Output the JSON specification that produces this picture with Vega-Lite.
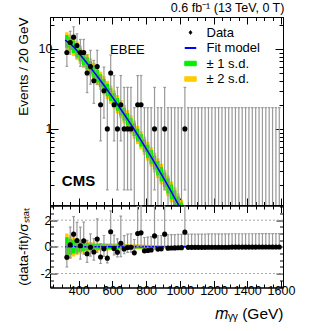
{
"$schema": "https://vega.github.io/schema/vega-lite/v6.json",
"padding": {"left": 15, "top": 1, "right": 5, "bottom": 5},
"title": {"text": "0.6 fb⁻¹ (13 TeV, 0 T)", "anchor": "end", "fontSize": 12.5, "fontWeight": "normal", "font": "Liberation Sans", "offset": 2, "dx": -11, "color": "black"},
"spacing": 0.5,
"bounds": "flush",
"resolve": {"scale": {"x": "independent", "y": "independent", "color": "independent"}},
"config": {
  "view": {"stroke": "black", "strokeWidth": 1},
  "font": "Liberation Sans",
  "axis": {"domainColor": "black", "tickColor": "black", "labelColor": "black", "titleColor": "black", "labelFont": "Liberation Sans", "titleFont": "Liberation Sans", "grid": false, "titleFontWeight": "normal", "labelFontSize": 12.5, "titleFontSize": 13.5, "labelOverlap": false}
},
"datasets": {
"bins": [
{"m":330,"a":320,"b":340,"n":9,"elo":6.057,"ehi":13.11,"p":-0.78,"plo":-1.5,"phi":0.22,"g1":0.72,"g2":1.0,"ng1":-0.72,"ng2":-1.0},
{"m":350,"a":340,"b":360,"n":12,"elo":8.585,"ehi":16.56,"p":0.15,"plo":-0.85,"phi":1.48,"g1":0.6,"g2":0.85,"ng1":-0.6,"ng2":-0.85},
{"m":370,"a":360,"b":380,"n":14,"elo":10.3,"ehi":18.83,"p":0.95,"plo":-0.05,"phi":2.26,"g1":0.5,"g2":0.72,"ng1":-0.5,"ng2":-0.72},
{"m":390,"a":380,"b":400,"n":11,"elo":7.734,"ehi":15.42,"p":0.48,"plo":-0.52,"phi":1.83,"g1":0.42,"g2":0.6,"ng1":-0.42,"ng2":-0.6},
{"m":410,"a":400,"b":420,"n":9,"elo":6.057,"ehi":13.11,"p":0.08,"plo":-0.92,"phi":1.48,"g1":0.36,"g2":0.52,"ng1":-0.36,"ng2":-0.52},
{"m":430,"a":420,"b":440,"n":9,"elo":6.057,"ehi":13.11,"p":0.45,"plo":-0.55,"phi":1.85,"g1":0.32,"g2":0.46,"ng1":-0.32,"ng2":-0.46},
{"m":450,"a":440,"b":460,"n":5,"elo":2.84,"ehi":8.382,"p":-0.52,"plo":-1.16,"phi":0.48,"g1":0.28,"g2":0.41,"ng1":-0.28,"ng2":-0.41},
{"m":470,"a":460,"b":480,"n":6,"elo":3.62,"ehi":9.584,"p":-0.03,"plo":-0.69,"phi":0.97,"g1":0.25,"g2":0.37,"ng1":-0.25,"ng2":-0.37},
{"m":490,"a":480,"b":500,"n":4,"elo":2.086,"ehi":7.163,"p":-0.39,"plo":-1.0,"phi":0.61,"g1":0.23,"g2":0.34,"ng1":-0.23,"ng2":-0.34},
{"m":510,"a":500,"b":520,"n":6,"elo":3.62,"ehi":9.584,"p":0.58,"plo":-0.42,"phi":2.09,"g1":0.21,"g2":0.31,"ng1":-0.21,"ng2":-0.31},
{"m":530,"a":520,"b":540,"n":2,"elo":0.708,"ehi":4.638,"p":-0.76,"plo":-1.25,"phi":0.24,"g1":0.2,"g2":0.29,"ng1":-0.2,"ng2":-0.29},
{"m":550,"a":540,"b":560,"n":3,"elo":1.367,"ehi":5.918,"p":-0.15,"plo":-0.71,"phi":0.85,"g1":0.19,"g2":0.28,"ng1":-0.19,"ng2":-0.28},
{"m":570,"a":560,"b":580,"n":1,"elo":0.173,"ehi":3.3,"p":-0.85,"plo":-1.21,"phi":0.15,"g1":0.18,"g2":0.27,"ng1":-0.18,"ng2":-0.27},
{"m":590,"a":580,"b":600,"n":5,"elo":2.84,"ehi":8.382,"p":1.13,"plo":0.13,"phi":2.7,"g1":0.18,"g2":0.26,"ng1":-0.18,"ng2":-0.26},
{"m":610,"a":600,"b":620,"n":2,"elo":0.708,"ehi":4.638,"p":-0.12,"plo":-0.61,"phi":0.88,"g1":0.17,"g2":0.25,"ng1":-0.17,"ng2":-0.25},
{"m":630,"a":620,"b":640,"n":1,"elo":0.173,"ehi":3.3,"p":-0.4,"plo":-0.76,"phi":0.6,"g1":0.17,"g2":0.25,"ng1":-0.17,"ng2":-0.25},
{"m":650,"a":640,"b":660,"n":2,"elo":0.708,"ehi":4.638,"p":0.27,"plo":-0.73,"phi":2.31,"g1":0.16,"g2":0.24,"ng1":-0.16,"ng2":-0.24},
{"m":670,"a":660,"b":680,"n":1,"elo":0.173,"ehi":3.3,"p":-0.16,"plo":-0.52,"phi":0.84,"g1":0.16,"g2":0.23,"ng1":-0.16,"ng2":-0.23},
{"m":690,"a":680,"b":700,"n":1,"elo":0.173,"ehi":3.3,"p":-0.05,"plo":-0.41,"phi":0.95,"g1":0.15,"g2":0.22,"ng1":-0.15,"ng2":-0.22},
{"m":710,"a":700,"b":720,"n":1,"elo":0.173,"ehi":3.3,"p":-0.03,"plo":-0.39,"phi":0.97,"g1":0.14,"g2":0.21,"ng1":-0.14,"ng2":-0.21},
{"m":730,"a":720,"b":740,"n":0,"elo":0.05,"ehi":1.841,"p":-0.45,"plo":-0.45,"phi":0.55,"g1":0.14,"g2":0.2,"ng1":-0.14,"ng2":-0.2},
{"m":750,"a":740,"b":760,"n":2,"elo":0.708,"ehi":4.638,"p":1.0,"plo":0.0,"phi":3.04,"g1":0.13,"g2":0.19,"ng1":-0.13,"ng2":-0.19},
{"m":770,"a":760,"b":780,"n":2,"elo":0.708,"ehi":4.638,"p":1.05,"plo":0.05,"phi":3.09,"g1":0.12,"g2":0.18,"ng1":-0.12,"ng2":-0.18},
{"m":790,"a":780,"b":800,"n":0,"elo":0.05,"ehi":1.841,"p":-0.3,"plo":-0.3,"phi":0.7,"g1":0.11,"g2":0.17,"ng1":-0.11,"ng2":-0.17},
{"m":810,"a":800,"b":820,"n":0,"elo":0.05,"ehi":1.841,"p":-0.27,"plo":-0.27,"phi":0.73,"g1":0.1,"g2":0.16,"ng1":-0.1,"ng2":-0.16},
{"m":830,"a":820,"b":840,"n":0,"elo":0.05,"ehi":1.841,"p":-0.24,"plo":-0.24,"phi":0.76,"g1":0.1,"g2":0.15,"ng1":-0.1,"ng2":-0.15},
{"m":850,"a":840,"b":860,"n":1,"elo":0.173,"ehi":3.3,"p":0.82,"plo":-0.18,"phi":3.6,"g1":0.09,"g2":0.14,"ng1":-0.09,"ng2":-0.14},
{"m":870,"a":860,"b":880,"n":0,"elo":0.05,"ehi":1.841,"p":-0.17,"plo":-0.17,"phi":0.83,"g1":0.08,"g2":0.13,"ng1":-0.08,"ng2":-0.13},
{"m":890,"a":880,"b":900,"n":0,"elo":0.05,"ehi":1.841,"p":-0.15,"plo":-0.15,"phi":0.85,"g1":0.08,"g2":0.12,"ng1":-0.08,"ng2":-0.12},
{"m":910,"a":900,"b":920,"n":1,"elo":0.173,"ehi":3.3,"p":0.95,"plo":-0.05,"phi":3.73,"g1":0.07,"g2":0.11,"ng1":-0.07,"ng2":-0.11},
{"m":930,"a":920,"b":940,"n":0,"elo":0.05,"ehi":1.841,"p":-0.1,"plo":-0.1,"phi":0.9,"g1":0.06,"g2":0.1,"ng1":-0.06,"ng2":-0.1},
{"m":950,"a":940,"b":960,"n":0,"elo":0.05,"ehi":1.841,"p":-0.09,"plo":-0.09,"phi":0.91,"g1":0.06,"g2":0.09,"ng1":-0.06,"ng2":-0.09},
{"m":970,"a":960,"b":980,"n":0,"elo":0.05,"ehi":1.841,"p":-0.08,"plo":-0.08,"phi":0.92,"g1":0.05,"g2":0.08,"ng1":-0.05,"ng2":-0.08},
{"m":990,"a":980,"b":1000,"n":0,"elo":0.05,"ehi":1.841,"p":-0.07,"plo":-0.07,"phi":0.93,"g1":0.05,"g2":0.07,"ng1":-0.05,"ng2":-0.07},
{"m":1010,"a":1000,"b":1020,"n":0,"elo":0.05,"ehi":1.841,"p":-0.06,"plo":-0.06,"phi":0.94,"g1":0.04,"g2":0.06,"ng1":-0.04,"ng2":-0.06},
{"m":1030,"a":1020,"b":1040,"n":1,"elo":0.173,"ehi":3.3,"p":1.1,"plo":0.1,"phi":3.88,"g1":0.04,"g2":0.06,"ng1":-0.04,"ng2":-0.06},
{"m":1050,"a":1040,"b":1060,"n":0,"elo":0.05,"ehi":1.841,"p":-0.04,"plo":-0.04,"phi":0.96,"g1":0.03,"g2":0.05,"ng1":-0.03,"ng2":-0.05},
{"m":1070,"a":1060,"b":1080,"n":0,"elo":0.05,"ehi":1.841,"p":-0.04,"plo":-0.04,"phi":0.96,"g1":0.03,"g2":0.05,"ng1":-0.03,"ng2":-0.05},
{"m":1090,"a":1080,"b":1100,"n":0,"elo":0.05,"ehi":1.841,"p":-0.04,"plo":-0.04,"phi":0.96,"g1":0.03,"g2":0.05,"ng1":-0.03,"ng2":-0.05},
{"m":1110,"a":1100,"b":1120,"n":0,"elo":0.05,"ehi":1.841,"p":-0.04,"plo":-0.04,"phi":0.96,"g1":0.03,"g2":0.05,"ng1":-0.03,"ng2":-0.05},
{"m":1130,"a":1120,"b":1140,"n":0,"elo":0.05,"ehi":1.841,"p":-0.04,"plo":-0.04,"phi":0.96,"g1":0.03,"g2":0.05,"ng1":-0.03,"ng2":-0.05},
{"m":1150,"a":1140,"b":1160,"n":0,"elo":0.05,"ehi":1.841,"p":-0.04,"plo":-0.04,"phi":0.96,"g1":0.03,"g2":0.05,"ng1":-0.03,"ng2":-0.05},
{"m":1170,"a":1160,"b":1180,"n":0,"elo":0.05,"ehi":1.841,"p":-0.03,"plo":-0.03,"phi":0.97,"g1":0.02,"g2":0.03,"ng1":-0.02,"ng2":-0.03},
{"m":1190,"a":1180,"b":1200,"n":0,"elo":0.05,"ehi":1.841,"p":-0.03,"plo":-0.03,"phi":0.97,"g1":0.02,"g2":0.03,"ng1":-0.02,"ng2":-0.03},
{"m":1210,"a":1200,"b":1220,"n":0,"elo":0.05,"ehi":1.841,"p":-0.03,"plo":-0.03,"phi":0.97,"g1":0.02,"g2":0.03,"ng1":-0.02,"ng2":-0.03},
{"m":1230,"a":1220,"b":1240,"n":0,"elo":0.05,"ehi":1.841,"p":-0.03,"plo":-0.03,"phi":0.97,"g1":0.02,"g2":0.03,"ng1":-0.02,"ng2":-0.03},
{"m":1250,"a":1240,"b":1260,"n":0,"elo":0.05,"ehi":1.841,"p":-0.03,"plo":-0.03,"phi":0.97,"g1":0.02,"g2":0.03,"ng1":-0.02,"ng2":-0.03},
{"m":1270,"a":1260,"b":1280,"n":0,"elo":0.05,"ehi":1.841,"p":-0.03,"plo":-0.03,"phi":0.97,"g1":0.02,"g2":0.03,"ng1":-0.02,"ng2":-0.03},
{"m":1290,"a":1280,"b":1300,"n":0,"elo":0.05,"ehi":1.841,"p":-0.03,"plo":-0.03,"phi":0.97,"g1":0.02,"g2":0.03,"ng1":-0.02,"ng2":-0.03},
{"m":1310,"a":1300,"b":1320,"n":0,"elo":0.05,"ehi":1.841,"p":-0.02,"plo":-0.02,"phi":0.98,"g1":0.02,"g2":0.03,"ng1":-0.02,"ng2":-0.03},
{"m":1330,"a":1320,"b":1340,"n":0,"elo":0.05,"ehi":1.841,"p":-0.02,"plo":-0.02,"phi":0.98,"g1":0.02,"g2":0.03,"ng1":-0.02,"ng2":-0.03},
{"m":1350,"a":1340,"b":1360,"n":0,"elo":0.05,"ehi":1.841,"p":-0.02,"plo":-0.02,"phi":0.98,"g1":0.02,"g2":0.03,"ng1":-0.02,"ng2":-0.03},
{"m":1370,"a":1360,"b":1380,"n":0,"elo":0.05,"ehi":1.841,"p":-0.02,"plo":-0.02,"phi":0.98,"g1":0.02,"g2":0.03,"ng1":-0.02,"ng2":-0.03},
{"m":1390,"a":1380,"b":1400,"n":0,"elo":0.05,"ehi":1.841,"p":-0.02,"plo":-0.02,"phi":0.98,"g1":0.02,"g2":0.03,"ng1":-0.02,"ng2":-0.03},
{"m":1410,"a":1400,"b":1420,"n":0,"elo":0.05,"ehi":1.841,"p":-0.02,"plo":-0.02,"phi":0.98,"g1":0.02,"g2":0.03,"ng1":-0.02,"ng2":-0.03},
{"m":1430,"a":1420,"b":1440,"n":0,"elo":0.05,"ehi":1.841,"p":-0.02,"plo":-0.02,"phi":0.98,"g1":0.02,"g2":0.03,"ng1":-0.02,"ng2":-0.03},
{"m":1450,"a":1440,"b":1460,"n":0,"elo":0.05,"ehi":1.841,"p":-0.02,"plo":-0.02,"phi":0.98,"g1":0.02,"g2":0.03,"ng1":-0.02,"ng2":-0.03},
{"m":1470,"a":1460,"b":1480,"n":0,"elo":0.05,"ehi":1.841,"p":-0.01,"plo":-0.01,"phi":0.99,"g1":0.02,"g2":0.03,"ng1":-0.02,"ng2":-0.03},
{"m":1490,"a":1480,"b":1500,"n":0,"elo":0.05,"ehi":1.841,"p":-0.01,"plo":-0.01,"phi":0.99,"g1":0.02,"g2":0.03,"ng1":-0.02,"ng2":-0.03},
{"m":1510,"a":1500,"b":1520,"n":0,"elo":0.05,"ehi":1.841,"p":-0.01,"plo":-0.01,"phi":0.99,"g1":0.02,"g2":0.03,"ng1":-0.02,"ng2":-0.03},
{"m":1530,"a":1520,"b":1540,"n":0,"elo":0.05,"ehi":1.841,"p":-0.01,"plo":-0.01,"phi":0.99,"g1":0.02,"g2":0.03,"ng1":-0.02,"ng2":-0.03},
{"m":1550,"a":1540,"b":1560,"n":0,"elo":0.05,"ehi":1.841,"p":-0.01,"plo":-0.01,"phi":0.99,"g1":0.02,"g2":0.03,"ng1":-0.02,"ng2":-0.03},
{"m":1570,"a":1560,"b":1580,"n":0,"elo":0.05,"ehi":1.841,"p":-0.01,"plo":-0.01,"phi":0.99,"g1":0.02,"g2":0.03,"ng1":-0.02,"ng2":-0.03},
{"m":1590,"a":1580,"b":1600,"n":0,"elo":0.05,"ehi":1.841,"p":-0.01,"plo":-0.01,"phi":0.99,"g1":0.02,"g2":0.03,"ng1":-0.02,"ng2":-0.03}
],
"band": [
{"a":320,"b":340,"g1hi":14.88,"g1lo":10.33,"g2hi":16.12,"g2lo":9.54},
{"a":340,"b":360,"g1hi":13.92,"g1lo":9.67,"g2hi":15.08,"g2lo":8.92},
{"a":360,"b":380,"g1hi":12.72,"g1lo":8.83,"g2hi":13.78,"g2lo":8.15},
{"a":380,"b":400,"g1hi":11.34,"g1lo":7.875,"g2hi":12.29,"g2lo":7.27},
{"a":400,"b":420,"g1hi":10.08,"g1lo":7.0,"g2hi":10.92,"g2lo":6.46},
{"a":420,"b":440,"g1hi":8.95,"g1lo":6.22,"g2hi":9.7,"g2lo":5.74},
{"a":440,"b":460,"g1hi":7.93,"g1lo":5.51,"g2hi":8.59,"g2lo":5.08},
{"a":460,"b":480,"g1hi":7.02,"g1lo":4.875,"g2hi":7.605,"g2lo":4.5},
{"a":480,"b":500,"g1hi":6.19,"g1lo":4.3,"g2hi":6.71,"g2lo":3.97},
{"a":500,"b":520,"g1hi":5.454,"g1lo":3.79,"g2hi":5.91,"g2lo":3.5},
{"a":520,"b":540,"g1hi":4.794,"g1lo":3.33,"g2hi":5.19,"g2lo":3.07},
{"a":540,"b":560,"g1hi":4.2,"g1lo":2.92,"g2hi":4.55,"g2lo":2.695},
{"a":560,"b":580,"g1hi":3.678,"g1lo":2.554,"g2hi":3.985,"g2lo":2.358},
{"a":580,"b":600,"g1hi":3.212,"g1lo":2.231,"g2hi":3.48,"g2lo":2.059},
{"a":600,"b":620,"g1hi":2.798,"g1lo":1.943,"g2hi":3.032,"g2lo":1.794},
{"a":620,"b":640,"g1hi":2.434,"g1lo":1.69,"g2hi":2.636,"g2lo":1.56},
{"a":640,"b":660,"g1hi":2.113,"g1lo":1.4675,"g2hi":2.289,"g2lo":1.355},
{"a":660,"b":680,"g1hi":1.829,"g1lo":1.27,"g2hi":1.981,"g2lo":1.172},
{"a":680,"b":700,"g1hi":1.58,"g1lo":1.0975,"g2hi":1.712,"g2lo":1.013},
{"a":700,"b":720,"g1hi":1.363,"g1lo":0.947,"g2hi":1.477,"g2lo":0.874},
{"a":720,"b":740,"g1hi":1.174,"g1lo":0.815,"g2hi":1.271,"g2lo":0.752},
{"a":740,"b":760,"g1hi":1.007,"g1lo":0.699,"g2hi":1.091,"g2lo":0.645},
{"a":760,"b":780,"g1hi":0.863,"g1lo":0.599,"g2hi":0.935,"g2lo":0.553},
{"a":780,"b":800,"g1hi":0.738,"g1lo":0.5125,"g2hi":0.8,"g2lo":0.473},
{"a":800,"b":820,"g1hi":0.635,"g1lo":0.434,"g2hi":0.688,"g2lo":0.401},
{"a":820,"b":840,"g1hi":0.545,"g1lo":0.366,"g2hi":0.59,"g2lo":0.339},
{"a":840,"b":860,"g1hi":0.464,"g1lo":0.311,"g2hi":0.505,"g2lo":0.286},
{"a":860,"b":880,"g1hi":0.396,"g1lo":0.262,"g2hi":0.428,"g2lo":0.242},
{"a":880,"b":900,"g1hi":0.335,"g1lo":0.222,"g2hi":0.365,"g2lo":0.203},
{"a":900,"b":920,"g1hi":0.285,"g1lo":0.186,"g2hi":0.308,"g2lo":0.172},
{"a":920,"b":940,"g1hi":0.241,"g1lo":0.156,"g2hi":0.262,"g2lo":0.144},
{"a":940,"b":960,"g1hi":0.202,"g1lo":0.132,"g2hi":0.22,"g2lo":0.121},
{"a":960,"b":980,"g1hi":0.171,"g1lo":0.1095,"g2hi":0.186,"g2lo":0.1007},
{"a":980,"b":1000,"g1hi":0.143,"g1lo":0.0918,"g2hi":0.156,"g2lo":0.0843},
{"a":1000,"b":1020,"g1hi":0.12,"g1lo":0.0766,"g2hi":0.13,"g2lo":0.0704}
],
"fit": [
{"m":320,"f":12.9},{"m":330,"f":12.4},{"m":350,"f":11.6},{"m":370,"f":10.6},{"m":390,"f":9.45},{"m":410,"f":8.4},{"m":430,"f":7.46},{"m":450,"f":6.61},{"m":470,"f":5.85},{"m":490,"f":5.16},{"m":510,"f":4.545},{"m":530,"f":3.995},{"m":550,"f":3.503},{"m":570,"f":3.065},{"m":590,"f":2.677},{"m":610,"f":2.332},{"m":630,"f":2.028},{"m":650,"f":1.761},{"m":670,"f":1.524},{"m":690,"f":1.317},{"m":710,"f":1.136},{"m":730,"f":0.978},{"m":750,"f":0.839},{"m":770,"f":0.719},{"m":790,"f":0.615},{"m":810,"f":0.525},{"m":830,"f":0.447},{"m":850,"f":0.38},{"m":870,"f":0.322},{"m":890,"f":0.2726},{"m":910,"f":0.2302},{"m":930,"f":0.194},{"m":950,"f":0.1632},{"m":970,"f":0.1369},{"m":990,"f":0.1147},{"m":1010,"f":0.0958},{"m":1030,"f":0.0799}
]
},
"vconcat": [
{
"width": 233, "height": 188,
"resolve": {"axis": {"x": "independent", "y": "independent"}},
"layer": [
{"data": {"name": "band"}, "mark": {"type": "rect", "color": "#ffcc00", "clip": true},
 "encoding": {
  "x": {"field": "a", "type": "quantitative", "scale": {"domain": [230, 1612], "nice": false, "zero": false},
        "axis": {"orient": "bottom", "values": [250,300,350,400,450,500,550,600,650,700,750,800,850,900,950,1000,1050,1100,1150,1200,1250,1300,1350,1400,1450,1500,1550,1600], "labels": false, "title": null,
                 "tickSize": {"condition": {"test": "datum.value % 200 == 0", "value": -7}, "value": -3.5}}},
  "x2": {"field": "b"},
  "y": {"field": "g2lo", "type": "quantitative", "scale": {"type": "log", "domain": [0.112, 25], "nice": false},
        "axis": {"orient": "left", "values": [0.2,0.3,0.4,0.5,0.6,0.7,0.8,0.9,1,2,3,4,5,6,7,8,9,10,20], "format": "~g",
                 "labelExpr": "datum.value == 1 || datum.value == 10 ? datum.label : ''",
                 "tickSize": {"condition": {"test": "datum.value == 1 || datum.value == 10", "value": -8}, "value": -4},
                 "labelPadding": 6, "title": "Events / 20 GeV", "titleAnchor": "end", "titleX": -20}},
  "y2": {"field": "g2hi"}}},
{"data": {"name": "band"}, "mark": {"type": "rect", "color": "#00ee00", "clip": true},
 "encoding": {
  "x": {"field": "a", "type": "quantitative",
        "axis": {"orient": "top", "values": [250,300,350,400,450,500,550,600,650,700,750,800,850,900,950,1000,1050,1100,1150,1200,1250,1300,1350,1400,1450,1500,1550,1600], "labels": false, "title": null,
                 "tickSize": {"condition": {"test": "datum.value % 200 == 0", "value": -7}, "value": -3.5}}},
  "x2": {"field": "b"},
  "y": {"field": "g1lo", "type": "quantitative",
        "axis": {"orient": "right", "values": [0.2,0.3,0.4,0.5,0.6,0.7,0.8,0.9,1,2,3,4,5,6,7,8,9,10,20], "labels": false, "title": null,
                 "tickSize": {"condition": {"test": "datum.value == 1 || datum.value == 10", "value": -8}, "value": -4}}},
  "y2": {"field": "g1hi"}}},
{"data": {"name": "bins"}, "mark": {"type": "rule", "color": "#999999", "strokeWidth": 1.2, "clip": true},
 "encoding": {"x": {"field": "m", "type": "quantitative", "axis": null}, "y": {"field": "elo", "type": "quantitative", "axis": null}, "y2": {"field": "ehi"}}},
{"data": {"name": "bins"}, "mark": {"type": "point", "shape": "stroke", "size": 7, "color": "#999999", "strokeWidth": 1.2, "opacity": 1, "clip": true},
 "encoding": {"x": {"field": "m", "type": "quantitative", "axis": null}, "y": {"field": "ehi", "type": "quantitative", "axis": null}}},
{"data": {"name": "bins"}, "transform": [{"filter": "datum.n > 0"}], "mark": {"type": "point", "shape": "stroke", "size": 7, "color": "#999999", "strokeWidth": 1.2, "opacity": 1, "clip": true},
 "encoding": {"x": {"field": "m", "type": "quantitative", "axis": null}, "y": {"field": "elo", "type": "quantitative", "axis": null}}},
{"data": {"name": "fit"}, "mark": {"type": "line", "strokeWidth": 1.5, "clip": true},
 "encoding": {"x": {"field": "m", "type": "quantitative", "axis": null}, "y": {"field": "f", "type": "quantitative", "axis": null},
  "color": {"datum": "Fit model", "type": "nominal",
    "scale": {"domain": ["Data", "Fit model", "± 1 s.d.", "± 2 s.d."], "range": ["black", "#0000ff", "#00ee00", "#ffcc00"]},
    "legend": {"orient": "none", "legendX": 134, "legendY": 9, "title": null, "labelFont": "Liberation Sans", "labelFontSize": 13, "labelColor": "black", "labelOffset": 9.5, "symbolSize": 100, "rowPadding": 1.5,
      "encode": {"symbols": {"update": {
        "shape": {"signal": "datum.value == 'Data' ? 'M-0.31,0A0.31,0.31 0 1,0 0.31,0A0.31,0.31 0 1,0 -0.31,0ZM0,-0.5V0.5' : datum.value == 'Fit model' ? 'M-1,0H1' : 'M-1,-0.39H1V0.39H-1Z'"},
        "size": {"signal": "datum.value == 'Data' ? 64 : 132"},
        "fill": {"signal": "datum.value == 'Data' ? 'black' : datum.value == 'Fit model' ? 'transparent' : datum.value == '± 1 s.d.' ? '#00ee00' : '#ffcc00'"},
        "stroke": {"signal": "datum.value == 'Data' ? 'black' : datum.value == 'Fit model' ? '#0000ff' : 'transparent'"},
        "strokeWidth": {"signal": "datum.value == 'Fit model' ? 2 : 1"},
        "opacity": {"value": 1}, "fillOpacity": {"value": 1}, "strokeOpacity": {"value": 1}
      }}}}}}},
{"data": {"name": "bins"}, "transform": [{"filter": "datum.n > 0"}], "mark": {"type": "point", "filled": true, "size": 26, "color": "black", "opacity": 1, "clip": true},
 "encoding": {"x": {"field": "m", "type": "quantitative", "axis": null}, "y": {"field": "n", "type": "quantitative", "axis": null}}},
{"data": {"values": [{}]}, "mark": {"type": "text", "text": "EBEE", "fontSize": 13, "align": "center", "baseline": "alphabetic", "font": "Liberation Sans", "color": "black"},
 "encoding": {"x": {"datum": 689, "type": "quantitative", "axis": null}, "y": {"datum": 8.66, "type": "quantitative", "axis": null}}},
{"data": {"values": [{}]}, "mark": {"type": "text", "text": "CMS", "fontSize": 15, "fontWeight": "bold", "align": "left", "baseline": "alphabetic", "font": "Liberation Sans", "color": "black"},
 "encoding": {"x": {"datum": 300, "type": "quantitative", "axis": null}, "y": {"datum": 0.194, "type": "quantitative", "axis": null}}}
]
},
{
"width": 233, "height": 82,
"resolve": {"axis": {"x": "independent", "y": "independent"}},
"layer": [
{"data": {"values": [{"y": -2}, {"y": 0}, {"y": 2}]}, "mark": {"type": "rule", "color": "#aaaaaa", "strokeDash": [2, 2], "strokeWidth": 1},
 "encoding": {"y": {"field": "y", "type": "quantitative", "scale": {"domain": [-3.05, 3.1], "nice": false, "zero": false},
   "axis": {"orient": "left", "values": [-3,-2.5,-2,-1.5,-1,-0.5,0,0.5,1,1.5,2,2.5,3],
            "labelExpr": "datum.value == 2 ? '2' : datum.value == 0 ? '0' : datum.value == -2 ? '-2' : ''",
            "tickSize": {"condition": {"test": "datum.value == 2 || datum.value == 0 || datum.value == -2", "value": -7}, "value": -3.5},
            "labelPadding": 6, "title": "(data-fit)/σₛₜₐₜ", "titleX": -20}}}},
{"data": {"name": "bins"}, "mark": {"type": "rect", "color": "#ffcc00", "clip": true},
 "encoding": {
  "x": {"field": "a", "type": "quantitative", "scale": {"domain": [230, 1612], "nice": false, "zero": false},
        "axis": {"orient": "bottom", "values": [250,300,350,400,450,500,550,600,650,700,750,800,850,900,950,1000,1050,1100,1150,1200,1250,1300,1350,1400,1450,1500,1550,1600], "format": "d",
                 "labelExpr": "datum.value % 200 == 0 && datum.value >= 400 ? datum.label : ''",
                 "tickSize": {"condition": {"test": "datum.value % 200 == 0", "value": -7}, "value": -3.5},
                 "labelPadding": 4, "title": "𝑚ᵧᵧ (GeV)", "titleAnchor": "end", "titleFontSize": 15.5, "titlePadding": 6}},
  "x2": {"field": "b"},
  "y": {"field": "ng2", "type": "quantitative", "axis": null}, "y2": {"field": "g2"}}},
{"data": {"name": "bins"}, "mark": {"type": "rect", "color": "#00ee00", "clip": true},
 "encoding": {
  "x": {"field": "a", "type": "quantitative",
        "axis": {"orient": "top", "values": [250,300,350,400,450,500,550,600,650,700,750,800,850,900,950,1000,1050,1100,1150,1200,1250,1300,1350,1400,1450,1500,1550,1600], "labels": false, "title": null,
                 "tickSize": {"condition": {"test": "datum.value % 200 == 0", "value": -7}, "value": -3.5}}},
  "x2": {"field": "b"},
  "y": {"field": "ng1", "type": "quantitative",
        "axis": {"orient": "right", "values": [-3,-2.5,-2,-1.5,-1,-0.5,0,0.5,1,1.5,2,2.5,3], "labels": false, "title": null,
                 "tickSize": {"condition": {"test": "datum.value == 2 || datum.value == 0 || datum.value == -2", "value": -7}, "value": -3.5}}},
  "y2": {"field": "g1"}}},
{"data": {"values": [{}]}, "mark": {"type": "rule", "color": "#0000ff", "strokeWidth": 1.5},
 "encoding": {"x": {"datum": 320, "type": "quantitative", "axis": null}, "x2": {"datum": 1600}, "y": {"datum": 0, "type": "quantitative", "axis": null}}},
{"data": {"name": "bins"}, "mark": {"type": "rule", "color": "#999999", "strokeWidth": 1.2, "clip": true},
 "encoding": {"x": {"field": "m", "type": "quantitative", "axis": null}, "y": {"field": "plo", "type": "quantitative", "axis": null}, "y2": {"field": "phi"}}},
{"data": {"name": "bins"}, "mark": {"type": "point", "shape": "stroke", "size": 7, "color": "#999999", "strokeWidth": 1.2, "opacity": 1, "clip": true},
 "encoding": {"x": {"field": "m", "type": "quantitative", "axis": null}, "y": {"field": "phi", "type": "quantitative", "axis": null}}},
{"data": {"name": "bins"}, "transform": [{"filter": "datum.n > 0"}], "mark": {"type": "point", "shape": "stroke", "size": 7, "color": "#999999", "strokeWidth": 1.2, "opacity": 1, "clip": true},
 "encoding": {"x": {"field": "m", "type": "quantitative", "axis": null}, "y": {"field": "plo", "type": "quantitative", "axis": null}}},
{"data": {"name": "bins"}, "mark": {"type": "point", "filled": true, "size": 26, "color": "black", "opacity": 1, "clip": true},
 "encoding": {"x": {"field": "m", "type": "quantitative", "axis": null}, "y": {"field": "p", "type": "quantitative", "axis": null}}}
]
}
]
}
